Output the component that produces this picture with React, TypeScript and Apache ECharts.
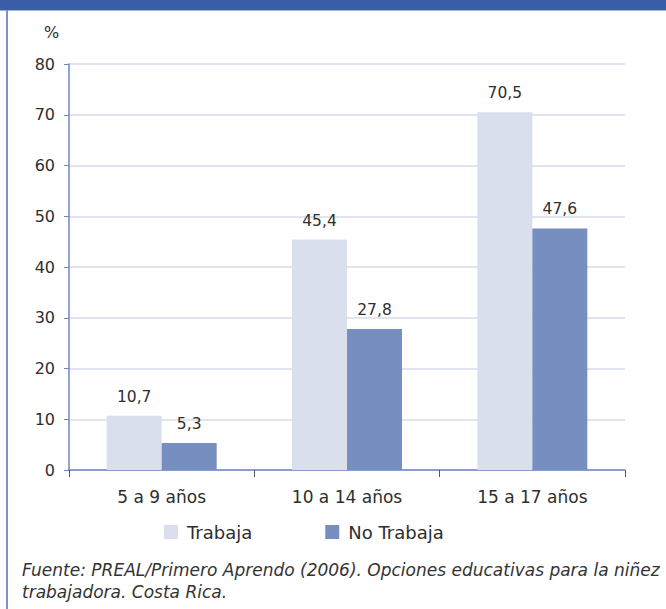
import React, { useEffect, useRef } from "react";
import * as echarts from "echarts";

const categories = ["5 a 9 años", "10 a 14 años", "15 a 17 años"];
const trabaja = [10.7, 45.4, 70.5];
const noTrabaja = [5.3, 27.8, 47.6];
const seriesNames = ["Trabaja", "No Trabaja"];
const footerLines = [
  "Fuente: PREAL/Primero Aprendo (2006). Opciones educativas para la niñez",
  "trabajadora. Costa Rica.",
];

const FONT = "'DejaVu Sans', 'Liberation Sans', Arial, sans-serif";
const TXT = "#2e2e2e";

export default function App() {
  const ref = useRef<HTMLDivElement>(null);
  useEffect(() => {
    document.body.style.margin = "0";
    const chart = echarts.init(ref.current!, null, { renderer: "svg" });
    const fmt = (p: any) => String(p.value).replace(".", ",");
    const labelStyle = { show: true, position: "top", distance: 11, fontSize: 15.5, color: TXT, formatter: fmt, fontFamily: FONT };
    chart.setOption({
      animation: false,
      backgroundColor: "#ffffff",
      textStyle: { fontFamily: FONT },
      grid: { left: 69, right: 41, top: 64, bottom: 139 },
      legend: {
        data: seriesNames,
        left: 164,
        top: 523,
        padding: 0,
        icon: "rect",
        itemWidth: 14,
        itemHeight: 14,
        itemGap: 73,
        textStyle: { fontSize: 18, color: TXT, fontFamily: FONT, padding: [0, 0, 0, 4] },
      },
      xAxis: {
        type: "category",
        data: categories,
        axisLine: { lineStyle: { color: "#6f86bf", width: 1.5 } },
        axisTick: { show: true, alignWithLabel: false, length: 7, lineStyle: { color: "#555" } },
        axisLabel: { fontSize: 17, color: TXT, margin: 18, fontFamily: FONT },
      },
      yAxis: {
        type: "value",
        min: 0,
        max: 80,
        interval: 10,
        axisLine: { show: true, lineStyle: { color: "#6f86bf", width: 1.5 } },
        axisTick: { show: true, length: 5, lineStyle: { color: "#6f86bf" } },
        axisLabel: { fontSize: 16, color: TXT, margin: 14, fontFamily: FONT },
        splitLine: { lineStyle: { color: "#e0e4f0", width: 2 } },
      },
      series: [
        {
          name: seriesNames[0],
          type: "bar",
          data: trabaja,
          barWidth: 55,
          barGap: "0%",
          itemStyle: { color: "#d9dfec" },
          label: labelStyle,
        },
        {
          name: seriesNames[1],
          type: "bar",
          data: noTrabaja,
          barWidth: 55,
          barGap: "0%",
          itemStyle: { color: "#768fc0" },
          label: labelStyle,
        },
      ],
      graphic: [
        { type: "rect", left: 0, top: 0, shape: { width: 666, height: 10 }, style: { fill: "#3b5da5" } },
        { type: "rect", left: 0, top: 10, shape: { width: 666, height: 1 }, style: { fill: "#9fb2d9" } },
        { type: "rect", left: 6, top: 10, shape: { width: 2, height: 599 }, style: { fill: "#7b95cc" } },
        { type: "text", left: 44, top: 24, style: { text: "%", fontSize: 16, fill: TXT, fontFamily: FONT } },
        {
          type: "text",
          left: 22,
          top: 559,
          style: { text: footerLines.join("\n"), fontSize: 17, lineHeight: 22, fill: "#333", fontStyle: "italic", fontFamily: FONT },
        },
      ],
    });
    return () => chart.dispose();
  }, []);
  return <div ref={ref} style={{ width: 666, height: 609, position: "fixed", left: 0, top: 0 }} />;
}
